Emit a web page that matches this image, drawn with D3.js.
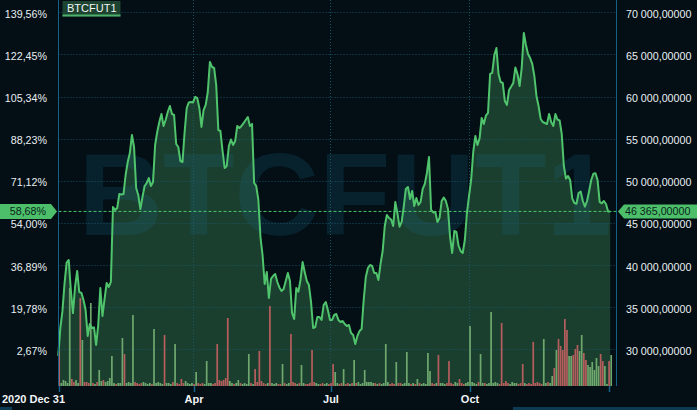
<!DOCTYPE html>
<html><head><meta charset="utf-8">
<script src="https://cdn.jsdelivr.net/npm/d3@7"></script>
<style>html,body{margin:0;padding:0;background:#030e15;overflow:hidden}</style>
</head><body><svg id="c" width="697" height="410"></svg>
<script>
const seriesName = "BTCFUT1";
const closes = [
29220,32500,34500,37800,40300,40600,37000,34300,37400,39300,
36800,36700,35850,34670,31580,33000,32530,32600,30510,32880,
37280,33950,35970,37870,37400,38000,46890,46540,46770,48430,
48380,48430,50690,52230,53300,55440,54010,49150,48320,46650,
48080,49380,49740,50330,49380,49860,54250,55790,56980,57930,
56510,57220,58170,58880,57930,57810,54370,54010,52350,52230,
55790,58640,59300,59360,59300,59950,59830,58640,56390,58400,
59000,60540,64100,63510,63390,61370,56030,55910,53540,51520,
51760,54130,54900,54250,54730,56510,56270,56510,56860,57220,
57570,56510,56740,49740,49380,47720,43330,41190,37750,39180,
36090,38350,38700,38940,37990,37340,36920,37160,38110,39060,
38110,34310,33600,37280,36840,38230,40360,39180,38110,37630,
35620,32530,32650,33830,33830,33480,35260,35620,34670,33480,
33480,34070,34190,33480,33240,33360,33000,32770,32880,31940,
31700,30630,31580,32170,32410,35850,38580,39650,40010,39890,
39060,39060,38230,40130,41670,44640,45940,45590,45410,44640,
47490,46180,44550,45110,46890,49030,49270,47840,48790,47010,
47960,47130,47490,49030,49620,50930,52830,46540,46240,46300,
45110,45590,47600,48020,47600,46650,43330,41430,44040,43920,
42320,41670,41430,42970,46180,48200,50100,53420,55320,54250,
55030,57460,56740,57730,58050,62680,62800,64930,65760,62680,
61730,61610,59470,59000,60780,61180,61610,63450,62680,61250,
63390,67550,66120,65050,64580,63870,62440,60070,58880,57340,
56980,56860,56740,57930,56980,56510,57930,57270,57160,55560,
51760,50270,50570,50100,47880,47370,47280,48550,48730,47600,
46930,47600,48790,50100,50840,50890,50100,47490,47330,47600,
47250,46360,46365];
const volumes = [
35,3,6,5,3,98,7,4,6,3,
88,46,4,4,3,83,3,2,4,16,
5,6,4,5,8,30,3,2,3,3,
48,32,3,4,3,71,4,3,2,3,
4,3,2,3,2,57,3,4,3,2,
51,3,3,2,4,42,3,2,7,3,
5,3,2,3,2,14,3,2,3,2,
25,3,3,2,3,42,6,5,6,8,
68,5,3,2,3,6,3,2,3,2,
32,3,2,17,4,35,5,3,2,3,
80,3,2,3,2,2,22,3,2,3,
52,4,3,2,3,21,3,2,2,3,
36,4,3,2,2,3,2,3,2,3,
22,14,3,2,3,17,2,3,2,3,
26,3,4,2,3,16,4,4,4,3,
3,2,3,2,3,42,4,2,3,2,
24,3,3,2,3,34,3,2,3,2,
7,3,2,3,2,33,15,3,2,3,
31,3,3,2,3,25,3,2,4,3,
7,3,2,3,4,60,4,3,2,4,
32,3,3,2,3,74,3,4,3,2,
63,3,5,3,2,4,3,3,2,3,
22,3,2,3,2,44,3,4,3,2,
47,3,4,3,10,18,36,47,40,36,
67,56,30,30,31,37,41,35,51,33,
26,21,19,24,16,28,20,32,25,20,
2,25,31];
const volDir = [
"duuuuudduu","dudddududu","uduuuuuduu","uduuuudddd","uuuuduuuuu",
"duuududddd","uuuududddu","uuuddddddd","duuduuduuu","ududdddddu",
"duuudduduu","ddduduuddd","dduudduudd","duudduddud","uduuuuuuuu",
"duduuuuddd","udduuuudud","uduuuuuddu","duuudddduu","ddduuuuuud",
"uuduuuuuud","dddduuuudd","dudddddddd","uuduududdd","dduuddduud",
"duuuuuuddu","udu"].join("");
const priceTicks = [30000,35000,40000,45000,50000,55000,60000,65000,70000];
const xTickIndex = [0, 64, 129, 195, 261];
const xTickLabels = ["2020 Dec 31","Apr","Jul","Oct",""];

const W = 697, H = 410;
const plotL = 58.5, plotR = 616.5, plotT = 0, plotB = 386;
const FONT = "'Liberation Sans', Arial, sans-serif";
const svg = d3.select("#c");

const x = d3.scaleLinear().domain([0, closes.length - 1]).range([58.2, 610.2]);
const y = d3.scaleLinear().domain([25644, 71460]).range([plotB, plotT]);
const yv = d3.scaleLinear().domain([0, 100]).range([plotB, plotB - 100]);

const loc = d3.formatLocale({decimal: ",", thousands: " ", grouping: [3], currency: ["", ""]});
const fmtPrice = loc.format(",.5f");
const fmtPct = loc.format(".2f");
const pct = v => fmtPct((v / closes[0] - 1) * 100) + "%";

svg.append("rect").attr("width", W).attr("height", H).attr("fill", "#030e15");

// area
const area = d3.area().x((d, i) => x(i)).y0(plotB).y1(d => y(d));
svg.append("path").datum(closes).attr("d", area).attr("fill", "#1b3f2e");

// watermark
svg.append("text").attr("x", 345).attr("y", 235).attr("text-anchor", "middle")
  .attr("font-family", FONT).attr("font-weight", "bold").attr("font-size", 117)
  .attr("fill", "#1b6e8f").attr("fill-opacity", 0.2).text(seriesName);

// grid
const g = svg.append("g");
g.selectAll("line.h").data(priceTicks).join("line")
  .attr("x1", plotL).attr("x2", plotR).attr("y1", d => Math.round(y(d)) + 0.5).attr("y2", d => Math.round(y(d)) + 0.5)
  .attr("stroke", "#1d5a70").attr("stroke-dasharray", "1,2").attr("stroke-opacity", 0.9);
g.selectAll("line.v").data(xTickIndex.slice(1, 4)).join("line")
  .attr("y1", plotT).attr("y2", plotB).attr("x1", d => Math.round(x(d)) + 0.5).attr("x2", d => Math.round(x(d)) + 0.5)
  .attr("stroke", "#1d5a70").attr("stroke-dasharray", "1,2").attr("stroke-opacity", 0.9);

// volume
const bw = 1.7;
svg.append("g").selectAll("rect").data(volumes).join("rect")
  .attr("x", (d, i) => x(i) + 1 - bw / 2).attr("width", bw)
  .attr("y", d => yv(d)).attr("height", d => plotB - yv(d))
  .attr("fill", (d, i) => volDir[i] === "u" ? "#6fa86e" : "#b65e5e");

// line
const line = d3.line().x((d, i) => x(i)).y(d => y(d));
svg.append("path").datum(closes).attr("d", line).attr("fill", "none")
  .attr("stroke", "#50c46c").attr("stroke-width", 2).attr("stroke-linejoin", "round");

const last = closes[closes.length - 1];
svg.append("line").attr("x1", plotL).attr("x2", plotR).attr("y1", y(last)).attr("y2", y(last))
  .attr("stroke", "#4cc46a").attr("stroke-dasharray", "3,2").attr("stroke-width", 1);

// axis lines
svg.append("line").attr("x1", plotL).attr("x2", plotL).attr("y1", 0).attr("y2", plotB).attr("stroke", "#16618a");
svg.append("line").attr("x1", plotR).attr("x2", plotR).attr("y1", 0).attr("y2", plotB).attr("stroke", "#16618a");

// left percent labels
svg.append("g").selectAll("text").data(priceTicks).join("text")
  .attr("x", 47).attr("y", d => y(d) + 5.5).attr("text-anchor", "end")
  .attr("font-family", FONT).attr("font-size", 10.7).attr("fill", "#e8eef2")
  .text(d => pct(d));
// right price labels
svg.append("g").selectAll("text").data(priceTicks).join("text")
  .attr("x", 626).attr("y", d => y(d) + 5.5).attr("text-anchor", "start")
  .attr("font-family", FONT).attr("font-size", 10.7).attr("fill", "#e8eef2")
  .text(d => fmtPrice(d));

// bottom ticks
svg.append("g").selectAll("line").data(xTickIndex).join("line")
  .attr("x1", d => Math.round(x(d)) + 1.5).attr("x2", d => Math.round(x(d)) + 1.5)
  .attr("y1", plotB).attr("y2", plotB + 6).attr("stroke", "#16618a").attr("stroke-width", 1.5);
svg.append("g").selectAll("text").data(xTickIndex).join("text")
  .attr("x", (d, i) => i === 0 ? 2 : x(d) + 1)
  .attr("y", 402.5)
  .attr("text-anchor", (d, i) => i === 0 ? "start" : "middle")
  .attr("font-family", FONT).attr("font-weight", "bold").attr("font-size", 11).attr("fill", "#f2f4f6")
  .text((d, i) => xTickLabels[i]);

// legend
svg.append("rect").attr("x", 62.5).attr("y", 1).attr("width", 58).attr("height", 15.5).attr("fill", "#1c4430");
svg.append("rect").attr("x", 62.5).attr("y", 14.5).attr("width", 58).attr("height", 2).attr("fill", "#4caf6a");
svg.append("text").attr("x", 67).attr("y", 12.3).attr("font-family", FONT).attr("font-size", 11)
  .attr("fill", "#f2f4f6").text(seriesName);

// last value labels
const ly = y(last);
svg.append("path").attr("d", `M0,${ly - 7.5}H51L57,${ly}L51,${ly + 7.5}H0Z`).attr("fill", "#4dbf6a");
svg.append("text").attr("x", 46).attr("y", ly + 4).attr("text-anchor", "end")
  .attr("font-family", FONT).attr("font-size", 10.7).attr("fill", "#0b1f1c").text(pct(last));
svg.append("path").attr("d", `M618,${ly}L624,${ly - 7}H697V${ly + 7}H624Z`).attr("fill", "#4dbf6a");
svg.append("text").attr("x", 625).attr("y", ly + 4).attr("text-anchor", "start")
  .attr("font-family", FONT).attr("font-size", 10.7).attr("fill", "#0b1f1c").text(fmtPrice(last));

// bottom strip
svg.append("rect").attr("x", 0).attr("y", 407).attr("width", 12).attr("height", 3).attr("fill", "#0c3b53");
svg.append("rect").attr("x", 513).attr("y", 407).attr("width", 184).attr("height", 3).attr("fill", "#0c3b53");
</script></body></html>
